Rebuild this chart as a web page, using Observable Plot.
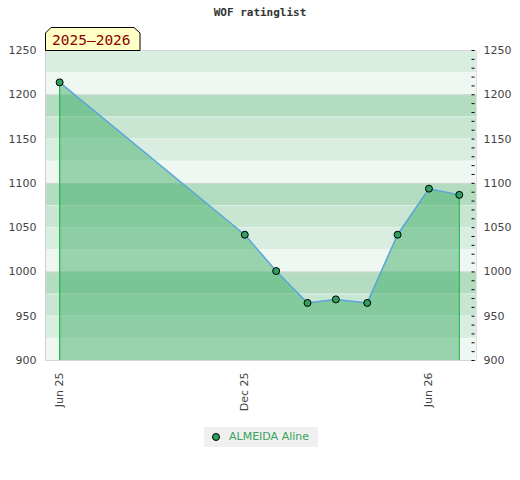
<!DOCTYPE html>
<html>
<head>
<meta charset="utf-8">
<script src="https://cdn.jsdelivr.net/npm/d3@7"></script>
<script src="https://cdn.jsdelivr.net/npm/@observablehq/plot@0.6"></script>
<style>
  html, body { margin: 0; padding: 0; background: #fff; }
  #wrap { position: relative; width: 520px; height: 480px; overflow: hidden; font-family: "DejaVu Sans", sans-serif; }
  #title { position: absolute; left: 0; top: 6px; width: 520px; text-align: center; font: bold 11px "DejaVu Sans Mono", monospace; color: #333; }
  #badge { position: absolute; left: 45px; top: 27px; }
  #chart { position: absolute; left: 0; top: 0; }
  #legend { position: absolute; left: 204px; top: 427px; width: 114px; height: 20px; background: #f0f0f0; font: 11px "DejaVu Sans", sans-serif; color: #3aa35c; }
  #legend .dot { position: absolute; left: 8px; top: 6px; width: 6px; height: 6px; border-radius: 50%; background: #2f9e5e; border: 1px solid #000; }
  #legend .lab { position: absolute; left: 25px; top: 3px; white-space: nowrap; }
</style>
</head>
<body>
<div id="wrap">
  <div id="chart"></div>
  <div id="title">WOF ratinglist</div>
  <svg id="badge" width="96" height="24">
    <polygon points="0.5,23.5 0.5,6 6,0.5 89,0.5 95,6 95,23.5" fill="#ffffc6" stroke="#000" stroke-width="1"/>
    <text x="7" y="18" font-family="DejaVu Sans Mono" font-size="14.5" fill="#8b0000">2025–2026</text>
  </svg>
  <div id="legend"><span class="dot"></span><span class="lab">ALMEIDA Aline</span></div>
</div>
<script>
// ---- data ----
const playerName = "ALMEIDA Aline";
const listDates = ["2025-06-01","2025-12-01","2026-01-01","2026-02-01","2026-03-01","2026-04-01","2026-05-01","2026-06-01","2026-07-01"];
const ratings   = [1214, 1042, 1001, 965, 969, 965, 1042, 1094, 1087];
const xTickDates = ["2025-06-01","2025-12-01","2026-06-01"];
const xTickLabels = ["Jun 25","Dec 25","Jun 26"];
const yTicks = [900, 950, 1000, 1050, 1100, 1150, 1200, 1250];
const yMinorTicks = d3.range(900, 1251, 10);
const bandLows = d3.range(900, 1250, 25);
const xDomain = ["2025-05-18","2026-07-18"];
const yDomain = [900, 1250];

const parse = s => new Date(s + "T00:00:00Z");
const data = listDates.map((d, i) => ({date: parse(d), rating: ratings[i]}));
const bands = bandLows.map(v => ({lo: v, hi: v + 25}));
const bandColor = v => ({0: "#eef7f1", 25: "#d9ede1", 50: "#c8e6d2", 75: "#b3dcc1"})[v % 100];
const tickMap = new Map(xTickDates.map((d, i) => [+parse(d), xTickLabels[i]]));
const first = data[0], last = data[data.length - 1];

const plot = Plot.plot({
  width: 520,
  height: 420,
  marginLeft: 45,
  marginRight: 44,
  marginTop: 50,
  marginBottom: 60,
  style: {fontFamily: "DejaVu Sans, sans-serif", fontSize: "11px", color: "#444", background: "transparent"},
  x: {type: "utc", domain: xDomain.map(parse)},
  y: {domain: yDomain},
  marks: [
    Plot.rectY(bands, {y1: "lo", y2: "hi", fill: d => bandColor(d.lo)}),
    Plot.ruleY(bandLows.filter(v => v % 100 !== 0), {stroke: "#ffffff", strokeOpacity: 0.35}),
    Plot.ruleY(yTicks.filter(v => v % 100 === 0).concat([1250]), {stroke: "#d6d6d6"}),
    Plot.areaY(data, {x: "date", y1: yDomain[0], y2: "rating", fill: "#3dab65", fillOpacity: 0.48}),
    Plot.ruleX([first, last], {x: "date", y1: yDomain[0], y2: "rating", stroke: "#1fb84c", strokeWidth: 1.2}),
    Plot.lineY(data, {x: "date", y: "rating", stroke: "#5ca6dc", strokeWidth: 1.5}),
    Plot.dot(data, {x: "date", y: "rating", r: 3.5, fill: "#2f9e5e", stroke: "#000", strokeWidth: 1}),
    Plot.frame({anchor: "left", stroke: "#cfcfcf"}),
    Plot.frame({anchor: "bottom", stroke: "#d6d6d6"}),
    Plot.frame({anchor: "right", stroke: "#e2e2e2"}),
    Plot.tickY(yMinorTicks, {y: d => d, insetLeft: 426.5, insetRight: 1.5, stroke: "#000"}),
    Plot.axisX({ticks: xTickDates.map(parse), tickFormat: d => tickMap.get(+d), tickRotate: -90, tickSize: 0, tickPadding: 12, label: null, fill: "#444"}),
    Plot.axisY({anchor: "left", ticks: yTicks, tickFormat: "d", tickSize: 0, tickPadding: 9, label: null, fill: "#444"}),
    Plot.axisY({anchor: "right", ticks: yTicks, tickFormat: "d", tickSize: 0, tickPadding: 7, label: null, fill: "#444"})
  ]
});
document.getElementById("chart").appendChild(plot);
</script>
</body>
</html>
